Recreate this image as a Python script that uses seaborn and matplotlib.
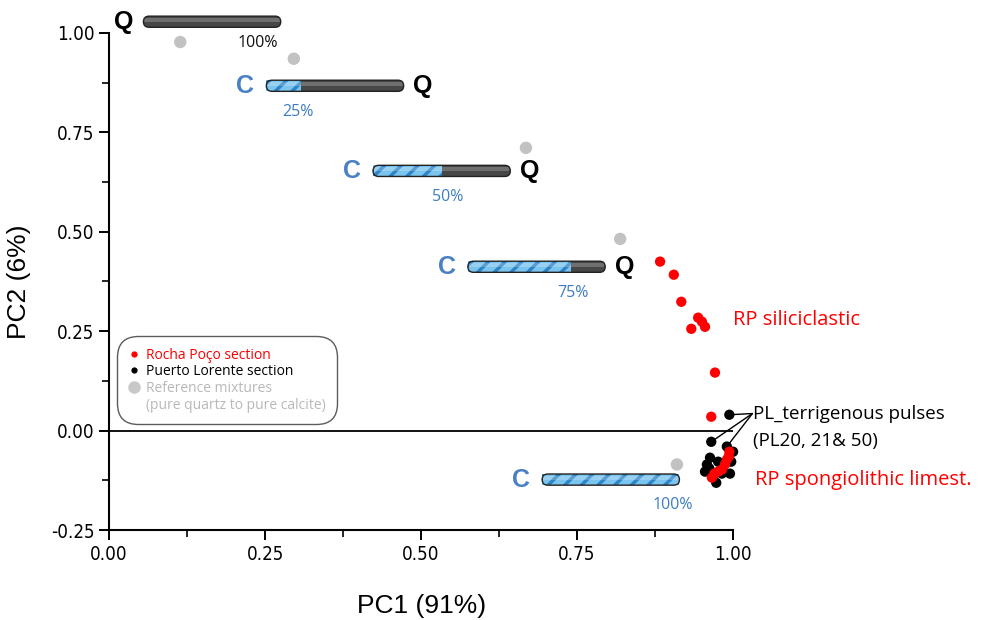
import numpy as np
import pandas as pd
import seaborn as sns
import matplotlib.pyplot as plt
from matplotlib.patches import FancyBboxPatch, Rectangle
from matplotlib.lines import Line2D

sns.set_style("ticks")
plt.rcParams['font.family'] = ['Liberation Sans', 'DejaVu Sans']
plt.rcParams['hatch.linewidth'] = 2.5
plt.rcParams['text.color'] = 'black'
plt.rcParams['axes.labelcolor'] = 'black'

# PCA scores
ref_pc1 = [0.114, 0.296, 0.668, 0.819, 0.910]
ref_pc2 = [0.977, 0.935, 0.711, 0.482, -0.085]

pl_pc1 = [0.994, 0.965, 0.990, 0.958, 0.963, 0.968, 0.973, 0.982, 0.995, 0.997, 1.000, 0.955, 0.976, 0.962]
pl_pc2 = [0.040, -0.028, -0.040, -0.085, -0.068, -0.113, -0.131, -0.108, -0.108, -0.078, -0.053, -0.103, -0.078, -0.095]

rp_pc1 = [0.883, 0.905, 0.917, 0.944, 0.950, 0.955, 0.933, 0.971, 0.965,
          0.994, 0.990, 0.987, 0.982, 0.976, 0.970, 0.966, 0.993]
rp_pc2 = [0.425, 0.392, 0.324, 0.284, 0.274, 0.261, 0.256, 0.146, 0.035,
          -0.053, -0.073, -0.085, -0.098, -0.103, -0.108, -0.118, -0.065]

# quartz/calcite mixture bars
bar_x0 = [0.055, 0.252, 0.423, 0.575, 0.694]
bar_y = [1.028, 0.867, 0.653, 0.412, -0.123]
calcite_frac = [0.0, 0.25, 0.50, 0.75, 1.0]
bar_labels = ['100%', '25%', '50%', '75%', '100%']
bar_label_x = [0.239, 0.303, 0.542, 0.744, 0.904]
bar_len = 0.22
bar_h = 0.028

df = pd.concat([
    pd.DataFrame({'PC1': ref_pc1, 'PC2': ref_pc2, 'group': 'ref'}),
    pd.DataFrame({'PC1': pl_pc1, 'PC2': pl_pc2, 'group': 'PL'}),
    pd.DataFrame({'PC1': rp_pc1, 'PC2': rp_pc2, 'group': 'RP'}),
])
palette = {'ref': '#c2c2c2', 'PL': '#000000', 'RP': '#ff0000'}
sizes = {'ref': 80, 'PL': 55, 'RP': 55}

fig, ax = plt.subplots(figsize=(9.92, 6.2), dpi=100)
fig.subplots_adjust(left=0.110, right=0.739, bottom=0.145, top=0.947)

sns.scatterplot(data=df, x='PC1', y='PC2', hue='group', palette=palette,
                size='group', sizes=sizes, edgecolor='none', legend=False,
                ax=ax, clip_on=False, zorder=5)

ax.axhline(0, color='black', lw=1.3, zorder=1)
ax.set_xlim(0, 1.0)
ax.set_ylim(-0.25, 1.0)
ax.set_xticks([0, 0.25, 0.5, 0.75, 1.0])
ax.set_yticks([-0.25, 0, 0.25, 0.5, 0.75, 1.0])
ax.set_xticks(np.arange(0.125, 1.0, 0.25), minor=True)
ax.set_yticks(np.arange(-0.125, 1.0, 0.25), minor=True)
ax.set_xticklabels(['0.00', '0.25', '0.50', '0.75', '1.00'])
ax.set_yticklabels(['-0.25', '0.00', '0.25', '0.50', '0.75', '1.00'])
for lab in ax.get_xticklabels() + ax.get_yticklabels():
    lab.set_family(['DejaVu Sans'])
    lab.set_stretch('condensed')
    lab.set_fontsize(13.5)
ax.tick_params(which='major', length=7, width=1.4, direction='out', colors='black')
ax.tick_params(which='minor', length=5, width=1.4, direction='out')
for s in ['left', 'bottom']:
    ax.spines[s].set_linewidth(1.5)
    ax.spines[s].set_color('black')
sns.despine(ax=ax)

ax.set_xlabel('PC1 (91%)', fontsize=19, labelpad=22)
ax.set_ylabel('PC2 (6%)', fontsize=19, labelpad=14)

# bars
aspect = (0.739 - 0.110) * 992 / 1.0 / ((0.947 - 0.145) * 620 / 1.25)
for x0, yc, fr, lbl, lx in zip(bar_x0, bar_y, calcite_frac, bar_labels, bar_label_x):
    y0 = yc - bar_h / 2
    body = FancyBboxPatch((x0, y0), bar_len, bar_h,
                          boxstyle='round,pad=0,rounding_size=0.009',
                          mutation_aspect=aspect, facecolor='#474747',
                          edgecolor='none', clip_on=False, zorder=3)
    ax.add_patch(body)
    if fr > 0:
        blue = Rectangle((x0, y0), bar_len * fr, bar_h, facecolor='#7ac4ee',
                         edgecolor='#2f84c6', lw=0, hatch='//', clip_on=False, zorder=3)
        ax.add_patch(blue)
        blue.set_clip_path(body)
    shine = Rectangle((x0, y0 + bar_h * 0.5), bar_len, bar_h * 0.35, facecolor='white',
                      alpha=0.22, lw=0, clip_on=False, zorder=3)
    ax.add_patch(shine)
    shine.set_clip_path(body)
    outline = FancyBboxPatch((x0, y0), bar_len, bar_h,
                             boxstyle='round,pad=0,rounding_size=0.009',
                             mutation_aspect=aspect, facecolor='none',
                             edgecolor='#222222', lw=1.0, clip_on=False, zorder=4)
    ax.add_patch(outline)
    if fr > 0:
        ax.text(x0 - 0.034, yc, 'C', color='#4a80c4', fontsize=18, fontweight='bold',
                ha='center', va='center', clip_on=False)
        ax.text(lx, yc - 0.065, lbl, color='#3d7cc4', fontsize=11.5,
                family='Open Sans', ha='center', va='center')
    else:
        ax.text(lx, yc - 0.053, lbl, color='#111111', fontsize=11.5,
                family='Open Sans', ha='center', va='center')
    if fr < 1.0:
        qx = x0 - 0.031 if fr == 0 else x0 + bar_len + 0.031
        ax.text(qx, yc, 'Q', color='black', fontsize=18, fontweight='bold',
                ha='center', va='center', clip_on=False)

# group labels
ax.text(1.0, 0.279, 'RP siliciclastic', color='#ff0000', fontsize=14.5,
        family='Open Sans', ha='left', va='center', clip_on=False)
ax.text(1.035, -0.123, 'RP spongiolithic limest.', color='#ff0000', fontsize=14.5,
        family='Open Sans', ha='left', va='center', clip_on=False)
ax.text(1.032, 0.043, 'PL_terrigenous pulses', color='black', fontsize=13.5,
        family='Open Sans', ha='left', va='center', clip_on=False)
ax.text(1.032, -0.025, '(PL20, 21& 50)', color='black', fontsize=13.5,
        family='Open Sans', ha='left', va='center', clip_on=False)
for i in [0, 1, 2]:
    ax.annotate('', xy=(pl_pc1[i], pl_pc2[i]), xytext=(1.031, 0.043),
                arrowprops=dict(arrowstyle='-', color='black', lw=1.0,
                                shrinkA=0, shrinkB=0), annotation_clip=False)

handles = [
    Line2D([], [], ls='none', marker='o', ms=4.5, mfc='#ff0000', mec='none'),
    Line2D([], [], ls='none', marker='o', ms=4.5, mfc='black', mec='none'),
    Line2D([], [], ls='none', marker='o', ms=9, mfc='#c8c8c8', mec='none'),
    Line2D([], [], ls='none', marker=''),
]
labels = ['Rocha Poço section', 'Puerto Lorente section',
          'Reference mixtures', '(pure quartz to pure calcite)']
leg = ax.legend(handles, labels, loc='lower left', bbox_to_anchor=(0.013, 0.214),
                borderaxespad=0, frameon=True, fancybox=True, handlelength=0.8,
                handletextpad=0.45, labelspacing=0.12, borderpad=0.8,
                labelcolor=['#ff0000', 'black', '#b8b8b8', '#b8b8b8'],
                prop={'family': 'Open Sans', 'size': 10})
frame = leg.get_frame()
frame.set_edgecolor('#333333')
frame.set_linewidth(1.0)
frame.set_boxstyle('round,pad=0,rounding_size=1.5')

fig.savefig('out.png', dpi=100)
